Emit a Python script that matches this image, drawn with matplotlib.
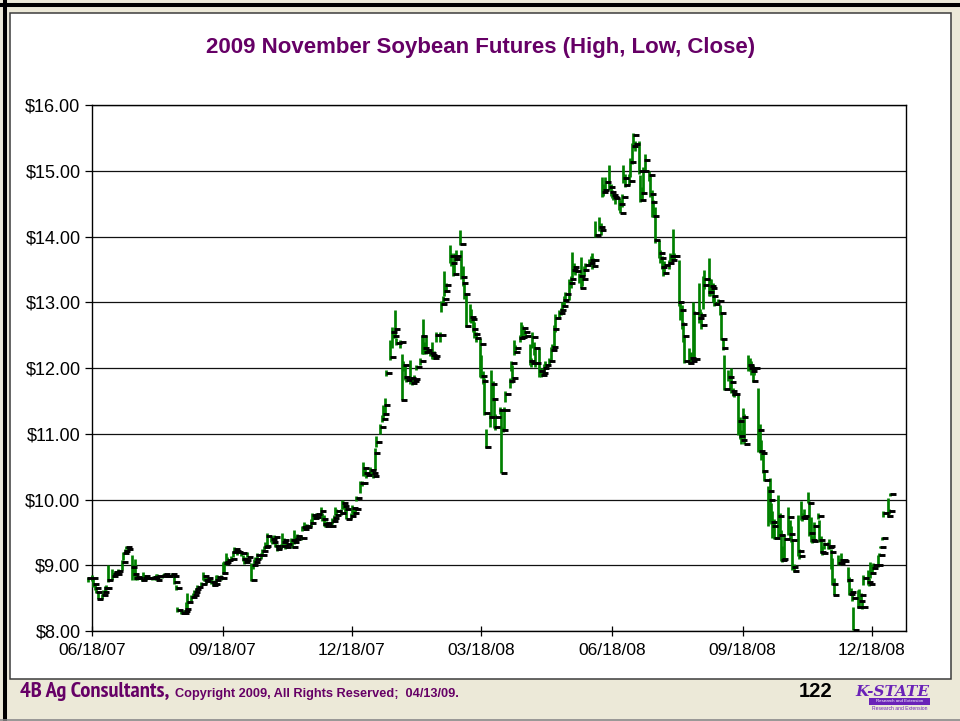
import os
import pandas as pd
import matplotlib
matplotlib.use("Agg")
import matplotlib.pyplot as plt
import matplotlib.dates as mdates
from matplotlib.patches import Rectangle
from matplotlib.lines import Line2D
from matplotlib.transforms import ScaledTranslation
from matplotlib import font_manager
from matplotlib.font_manager import FontProperties

# ---------------------------------------------------------------- data
# Daily trading sessions, 2009 November soybean contract
start_date = "2007-06-15"
end_date = "2008-12-31"

# settlement (close), one row per trading week
close = [
    8.80,
    8.80, 8.72, 8.65, 8.60, 8.49,
    8.55, 8.60, 8.65, 8.66, 8.77,
    8.83, 8.86, 8.90, 8.87, 8.92,
    9.05, 9.18, 9.22, 9.28, 9.25,
    8.98, 8.86, 8.80, 8.82, 8.80,
    8.78, 8.80, 8.83, 8.80, 8.81,
    8.80, 8.82, 8.80, 8.78, 8.84,
    8.83, 8.85, 8.86, 8.84, 8.84,
    8.86, 8.84, 8.75, 8.65, 8.32,
    8.28, 8.28, 8.30, 8.34, 8.44,
    8.52, 8.55, 8.60, 8.64, 8.67,
    8.72, 8.83, 8.78, 8.76, 8.80,
    8.74, 8.70, 8.72, 8.78, 8.82,
    8.80, 8.88, 9.03, 9.05, 9.08,
    9.10, 9.20, 9.25, 9.22, 9.20,
    9.18, 9.10, 9.05, 9.08, 9.13,
    8.77, 9.00, 9.05, 9.10, 9.15,
    9.15, 9.22, 9.28, 9.30, 9.45,
    9.40, 9.36, 9.43, 9.30, 9.25,
    9.30, 9.35, 9.38, 9.28, 9.32,
    9.38, 9.28, 9.35, 9.40, 9.45,
    9.42, 9.58, 9.55, 9.60, 9.58,
    9.65, 9.76, 9.72, 9.74, 9.78,
    9.82, 9.70, 9.62, 9.60, 9.65,
    9.60, 9.68, 9.72, 9.77, 9.82,
    9.80, 9.95, 9.90, 9.85, 9.70,
    9.75, 9.87, 9.80, 9.85, 10.02,
    10.25, 10.25, 10.48, 10.40, 10.37,
    10.45, 10.40, 10.35, 10.70, 10.88,
    11.11, 11.23, 11.30, 11.44, 11.92,
    12.16, 12.55, 12.48, 12.60, 12.38,
    12.40, 11.52, 12.05, 11.87, 11.82,
    11.85, 11.77, 11.80, 11.84, 12.02,
    12.10, 12.48, 12.30, 12.25, 12.28,
    12.23, 12.20, 12.15, 12.18, 12.50,
    12.50, 12.97, 13.05, 13.17, 13.26,
    13.71, 13.59, 13.43, 13.66, 13.71,
    13.88, 13.38, 13.29, 13.13, 12.64,
    12.78, 12.75, 12.60, 12.52, 12.45,
    12.36, 11.88, 11.80, 11.31, 10.80,
    11.26, 11.76, 11.53, 11.10, 11.25,
    11.36, 10.40, 11.06, 11.36, 11.60,
    11.80, 12.07, 11.85, 12.25, 12.30,
    12.46, 12.47, 12.61, 12.55, 12.49,
    12.10, 12.07, 12.47, 12.30, 12.07,
    11.95, 11.90, 11.92, 12.00, 12.05,
    12.10, 12.28, 12.32, 12.60, 12.76,
    12.83, 12.88, 12.95, 13.04, 13.13,
    13.30, 13.35, 13.49, 13.54, 13.47,
    13.40, 13.21, 13.35, 13.49, 13.56,
    13.60, 13.64, 13.55, 13.64, 14.02,
    14.15, 14.10, 14.68, 14.71, 14.83,
    14.75, 14.68, 14.63, 14.60, 14.58,
    14.50, 14.35, 14.60, 14.89, 14.79,
    14.85, 15.14, 15.38, 15.55, 15.40,
    14.99, 14.55, 14.66, 15.00, 15.16,
    14.93, 14.64, 14.52, 14.31, 13.94,
    13.75, 13.67, 13.54, 13.44, 13.57,
    13.59, 13.70, 13.65, 13.70, 13.70,
    13.01, 12.88, 12.67, 12.48, 12.10,
    12.08, 12.15, 12.10, 12.83, 12.14,
    12.76, 12.81, 12.65, 13.26, 13.36,
    13.16, 13.24, 13.22, 13.10, 12.98,
    13.02, 12.83, 12.44, 12.30, 11.68,
    11.87, 11.79, 11.65, 11.61, 11.60,
    11.20, 10.96, 10.90, 11.25, 10.85,
    12.05, 12.00, 11.96, 11.80, 12.00,
    11.05, 10.74, 10.71, 10.44, 10.30,
    10.13, 10.00, 9.66, 9.60, 9.41,
    9.75, 9.46, 9.08, 9.10, 9.40,
    9.73, 9.48, 9.38, 8.98, 8.91,
    9.21, 9.14, 9.73, 9.72, 9.75,
    9.95, 9.49, 9.39, 9.37, 9.60,
    9.75, 9.38, 9.20, 9.19, 9.32,
    9.27, 9.30, 9.20, 8.71, 8.55,
    9.04, 9.03, 9.08, 9.08, 9.06,
    8.77, 8.57, 8.60, 8.50, 8.02,
    8.36, 8.46, 8.54, 8.36, 8.80,
    8.75, 8.71, 8.88, 8.96, 9.01,
    9.00, 9.16, 9.28, 9.41, 9.80,
    9.75, 9.83, 10.08,
]

high = [
    8.82,
    8.85, 8.80, 8.72, 8.66, 8.60,
    8.56, 8.63, 8.68, 8.70, 9.00,
    8.95, 8.88, 8.92, 8.90, 8.95,
    9.08, 9.20, 9.24, 9.30, 9.28,
    9.15, 8.98, 9.10, 8.88, 8.84,
    8.82, 8.90, 8.85, 8.84, 8.83,
    8.82, 8.84, 8.83, 8.86, 8.86,
    8.85, 8.87, 8.88, 8.86, 8.86,
    8.88, 8.86, 8.85, 8.70, 8.37,
    8.30, 8.32, 8.32, 8.44, 8.58,
    8.55, 8.58, 8.62, 8.66, 8.70,
    8.75, 8.90, 8.85, 8.80, 8.83,
    8.80, 8.78, 8.76, 8.85, 8.85,
    8.85, 9.05, 9.06, 9.18, 9.12,
    9.14, 9.22, 9.28, 9.26, 9.24,
    9.22, 9.16, 9.10, 9.12, 9.20,
    9.03, 9.02, 9.10, 9.12, 9.18,
    9.18, 9.25, 9.30, 9.35, 9.49,
    9.45, 9.44, 9.46, 9.42, 9.32,
    9.33, 9.49, 9.42, 9.36, 9.35,
    9.42, 9.40, 9.54, 9.44, 9.48,
    9.46, 9.60, 9.66, 9.62, 9.62,
    9.70, 9.80, 9.76, 9.78, 9.80,
    9.89, 9.80, 9.76, 9.64, 9.68,
    9.64, 9.72, 9.76, 9.89, 9.85,
    9.86, 10.00, 9.98, 9.92, 9.86,
    9.80, 9.92, 9.86, 9.89, 10.05,
    10.28, 10.28, 10.57, 10.46, 10.42,
    10.50, 10.47, 10.42, 10.79, 10.97,
    11.15, 11.28, 11.44, 11.54, 11.97,
    12.43, 12.62, 12.52, 12.88, 12.45,
    12.42, 12.22, 12.10, 12.05, 11.88,
    12.12, 11.85, 11.84, 11.90, 12.05,
    12.15, 12.50, 12.75, 12.40, 12.50,
    12.28, 12.40, 12.20, 12.26, 12.55,
    12.55, 13.02, 13.10, 13.47, 13.30,
    13.87, 13.75, 13.62, 13.75, 13.80,
    14.10, 13.79, 13.55, 13.30, 13.14,
    12.98, 12.90, 12.76, 12.70, 12.55,
    12.45, 12.20, 11.95, 11.85, 11.07,
    11.30, 11.97, 11.80, 11.55, 11.30,
    11.40, 11.36, 11.10, 11.40, 11.65,
    11.85, 12.10, 12.05, 12.43, 12.35,
    12.50, 12.70, 12.65, 12.62, 12.55,
    12.37, 12.15, 12.55, 12.40, 12.30,
    12.30, 12.00, 11.98, 12.06, 12.10,
    12.15, 12.32, 12.36, 12.65, 12.82,
    12.88, 12.92, 13.00, 13.10, 13.16,
    13.35, 13.40, 13.77, 13.60, 13.55,
    13.45, 13.69, 13.42, 13.55, 13.60,
    13.66, 13.70, 13.75, 13.68, 14.23,
    14.30, 14.20, 14.91, 14.80, 14.91,
    15.08, 14.80, 14.70, 14.66, 14.64,
    14.58, 14.55, 14.65, 15.09, 14.95,
    14.95, 15.20, 15.42, 15.58, 15.45,
    15.46, 14.94, 14.75, 15.05, 15.26,
    14.99, 14.95, 14.70, 14.55, 14.45,
    13.95, 13.80, 13.70, 13.60, 13.62,
    13.65, 13.75, 13.72, 14.11, 13.75,
    13.64, 13.00, 12.96, 12.70, 12.50,
    12.30, 12.20, 12.25, 13.01, 12.86,
    13.29, 12.90, 12.85, 13.40, 13.49,
    13.67, 13.36, 13.35, 13.29, 13.10,
    13.05, 12.96, 12.83, 12.45, 12.20,
    11.97, 11.90, 12.00, 11.70, 11.66,
    11.61, 11.25, 11.05, 11.39, 11.30,
    12.20, 12.15, 12.10, 12.05, 12.02,
    11.69, 11.15, 10.90, 10.72, 10.45,
    10.20, 10.32, 9.95, 9.82, 9.70,
    10.07, 9.80, 9.54, 9.30, 9.48,
    9.89, 9.69, 9.60, 9.40, 9.02,
    9.77, 9.25, 9.97, 9.80, 9.85,
    10.12, 9.97, 9.74, 9.45, 9.66,
    9.80, 9.69, 9.45, 9.30, 9.35,
    9.36, 9.40, 9.25, 9.11, 8.80,
    9.16, 9.10, 9.18, 9.10, 9.10,
    8.98, 8.82, 8.66, 8.60, 8.37,
    8.62, 8.64, 8.58, 8.45, 8.85,
    8.93, 8.80, 9.05, 9.00, 9.04,
    9.16, 9.18, 9.30, 9.43, 9.82,
    10.02, 9.86, 10.10,
]

low = [
    8.74,
    8.76, 8.67, 8.63, 8.58, 8.49,
    8.49, 8.55, 8.60, 8.62, 8.75,
    8.78, 8.82, 8.86, 8.84, 8.88,
    8.93, 9.08, 9.18, 9.24, 9.22,
    8.78, 8.84, 8.78, 8.79, 8.78,
    8.76, 8.78, 8.79, 8.78, 8.79,
    8.78, 8.80, 8.78, 8.77, 8.80,
    8.81, 8.83, 8.84, 8.82, 8.82,
    8.84, 8.82, 8.72, 8.62, 8.29,
    8.26, 8.26, 8.27, 8.30, 8.34,
    8.46, 8.50, 8.55, 8.60, 8.62,
    8.68, 8.77, 8.76, 8.72, 8.75,
    8.72, 8.68, 8.68, 8.72, 8.78,
    8.78, 8.86, 8.88, 9.00, 9.03,
    9.06, 9.12, 9.20, 9.18, 9.16,
    9.14, 9.06, 9.02, 9.04, 9.12,
    8.76, 8.95, 9.00, 9.05, 9.10,
    9.10, 9.14, 9.22, 9.26, 9.28,
    9.36, 9.32, 9.38, 9.28, 9.22,
    9.24, 9.30, 9.32, 9.25, 9.28,
    9.32, 9.26, 9.33, 9.35, 9.40,
    9.38, 9.52, 9.54, 9.55, 9.54,
    9.58, 9.64, 9.70, 9.70, 9.74,
    9.76, 9.68, 9.59, 9.58, 9.60,
    9.58, 9.62, 9.68, 9.76, 9.78,
    9.76, 9.86, 9.86, 9.80, 9.70,
    9.70, 9.80, 9.76, 9.80, 9.98,
    10.10, 10.20, 10.35, 10.36, 10.33,
    10.38, 10.36, 10.33, 10.45, 10.80,
    11.00, 11.18, 11.23, 11.30, 11.88,
    12.12, 12.30, 12.45, 12.45, 12.35,
    12.30, 11.51, 11.95, 11.82, 11.78,
    11.76, 11.74, 11.76, 11.80, 11.97,
    12.05, 12.22, 12.22, 12.22, 12.22,
    12.18, 12.14, 12.13, 12.15, 12.40,
    12.40, 12.85, 12.97, 13.10, 13.16,
    13.59, 13.55, 13.40, 13.45, 13.62,
    13.87, 13.36, 13.25, 13.05, 12.63,
    12.70, 12.68, 12.55, 12.45, 12.40,
    11.87, 11.85, 11.75, 11.28, 10.79,
    11.11, 11.25, 11.50, 11.08, 11.05,
    11.30, 10.40, 11.02, 11.06, 11.48,
    11.70, 11.95, 11.77, 12.20, 12.25,
    12.40, 12.45, 12.47, 12.50, 12.45,
    12.05, 12.02, 12.30, 12.20, 12.02,
    11.87, 11.87, 11.88, 11.90, 12.00,
    12.05, 12.10, 12.26, 12.30, 12.55,
    12.76, 12.80, 12.86, 12.95, 13.04,
    13.04, 13.22, 13.34, 13.45, 13.42,
    13.30, 13.21, 13.25, 13.40, 13.48,
    13.55, 13.58, 13.50, 13.58, 14.00,
    14.08, 14.02, 14.60, 14.62, 14.70,
    14.71, 14.62, 14.58, 14.55, 14.50,
    14.40, 14.35, 14.45, 14.81, 14.75,
    14.78, 14.90, 15.10, 15.35, 15.30,
    14.95, 14.53, 14.55, 14.66, 14.98,
    14.85, 14.60, 14.30, 14.30, 13.90,
    13.67, 13.60, 13.50, 13.40, 13.45,
    13.50, 13.60, 13.58, 13.65, 13.64,
    12.95, 12.73, 12.60, 12.40, 12.07,
    12.06, 12.07, 12.08, 12.15, 12.12,
    12.68, 12.70, 12.60, 12.90, 13.20,
    13.10, 13.10, 13.15, 13.00, 12.95,
    12.96, 12.80, 12.43, 12.28, 11.67,
    11.80, 11.70, 11.62, 11.58, 11.56,
    10.98, 10.92, 10.85, 10.98, 10.84,
    11.95, 11.96, 11.90, 11.78, 11.90,
    10.73, 10.70, 10.60, 10.40, 10.28,
    9.59, 9.66, 9.62, 9.41, 9.40,
    9.43, 9.45, 9.06, 9.05, 9.10,
    9.46, 9.40, 9.35, 8.93, 8.90,
    9.14, 9.10, 9.69, 9.68, 9.70,
    9.94, 9.45, 9.36, 9.34, 9.38,
    9.70, 9.35, 9.18, 9.16, 9.25,
    9.24, 9.25, 8.95, 8.70, 8.54,
    9.00, 9.00, 9.04, 9.05, 9.02,
    8.75, 8.55, 8.55, 8.45, 8.02,
    8.35, 8.36, 8.45, 8.34, 8.70,
    8.70, 8.68, 8.80, 8.90, 8.96,
    8.98, 9.14, 9.26, 9.39, 9.74,
    9.74, 9.78, 10.05,
]

tick_dates = ["2007-06-18", "2007-09-18", "2007-12-18", "2008-03-18",
              "2008-06-18", "2008-09-18", "2008-12-18"]
price_ticks = [8, 9, 10, 11, 12, 13, 14, 15, 16]

title = "2009 November Soybean Futures (High, Low, Close)"
firm = "4B Ag Consultants,"
notice = "Copyright 2009, All Rights Reserved;  04/13/09."
page_no = "122"

# ---------------------------------------------------------------- setup
sessions = pd.bdate_range(start_date, end_date)
if not (len(sessions) == len(close) == len(high) == len(low)):
    raise ValueError("session count does not match price lists")
xdates = mdates.date2num(sessions.to_pydatetime())

W, H = 960, 721
fig = plt.figure(figsize=(W / 100, H / 100), dpi=100, facecolor="#ECE9D8")


def fx(px):
    return px / W


def fy(py):
    return 1 - py / H


names = {f.name for f in font_manager.fontManager.ttflist}
SANS = "Liberation Sans" if "Liberation Sans" in names else "DejaVu Sans"
PURPLE = "#660066"


def find_narrow_bold():
    """Look for an installed narrow/condensed bold sans face."""
    best = None
    for f in font_manager.fontManager.ttflist:
        base = os.path.basename(f.fname).lower()
        tag = f.name.lower() + " " + base
        if "bold" not in base or "italic" in base or "oblique" in base:
            continue
        if "serif" in tag and "sans" not in tag:
            continue
        if "narrow" in tag:
            return f.fname
        if "condensed" in tag and "semi" not in tag and best is None:
            best = f.fname
    return best


narrow_file = find_narrow_bold()

# outer frame of the slide
fig.add_artist(Line2D([0, 1], [fy(5), fy(5)], transform=fig.transFigure,
                      color="black", lw=2.9, solid_capstyle="butt"))
fig.add_artist(Line2D([fx(5), fx(5)], [0, 1], transform=fig.transFigure,
                      color="black", lw=2.9, solid_capstyle="butt"))
fig.add_artist(Line2D([0, 1], [fy(719.8), fy(719.8)], transform=fig.transFigure,
                      color="#8a8a8a", lw=1.2))

# white chart panel
fig.add_artist(Rectangle((fx(9.5), fy(679)), fx(951) - fx(9.5), fy(13) - fy(679),
                         transform=fig.transFigure, facecolor="white",
                         edgecolor="#3c3c3c", lw=1.1, zorder=0))

ax = fig.add_axes([fx(92), fy(631), fx(906) - fx(92), fy(105) - fy(631)])
ax.set_facecolor("white")

# high-low bars
ax.vlines(xdates, low, high, color="#008000", lw=1.95, zorder=3, clip_on=False)
# closing ticks drawn to the right of each bar
shift = ax.transData + ScaledTranslation(2.7 / 100, 0, fig.dpi_scale_trans)
ax.plot(xdates, close, ls="none", marker="_", ms=4.3, mew=2.1, color="black",
        transform=shift, zorder=4, clip_on=False)

# axes, scales, grid
x0 = mdates.date2num(pd.Timestamp("2007-06-18"))
ax.set_xlim(x0, x0 + 573)
ax.set_ylim(8, 16)
ax.set_yticks(price_ticks)
ax.set_yticklabels([f"${v:.2f}" for v in price_ticks])
tick_pos = mdates.date2num(pd.to_datetime(tick_dates).to_pydatetime())
ax.set_xticks(tick_pos)
ax.set_xticklabels([pd.Timestamp(d).strftime("%m/%d/%y") for d in tick_dates])

ax.yaxis.grid(True, color="#111111", lw=0.9)
ax.set_axisbelow(True)
for s in ax.spines.values():
    s.set_color("black")
    s.set_linewidth(1.0)

ax.tick_params(axis="y", direction="out", length=5, width=0.9, pad=3.3,
               labelsize=13, colors="black")
ax.tick_params(axis="x", direction="inout", length=7.5, width=0.9, pad=5,
               labelsize=12.5, colors="black")
for lab in ax.get_xticklabels() + ax.get_yticklabels():
    lab.set_family(SANS)

# title
fig.text(fx(481), fy(47), title, ha="center", va="center", fontsize=16,
         fontweight="bold", color=PURPLE, family=SANS)

# footer
if narrow_file:
    fig.text(fx(20), fy(697), firm, ha="left", va="baseline", color=PURPLE,
             fontproperties=FontProperties(fname=narrow_file, size=16.2))
else:
    fig.text(fx(20), fy(697), firm, ha="left", va="baseline", fontsize=12,
             fontweight="bold", color=PURPLE, family=SANS)
fig.text(fx(175), fy(697), notice, ha="left", va="baseline", fontsize=9.2,
         fontweight="bold", color=PURPLE, family=SANS)
fig.text(fx(816), fy(697), page_no, ha="center", va="baseline", fontsize=14.5,
         fontweight="bold", color="black", family=SANS)

# K-State mark
LOGO = "#6a22b8"
fig.text(fx(892), fy(692), "K-STATE", ha="center", va="center", fontsize=11,
         fontweight="bold", style="italic", color=LOGO, family="DejaVu Serif")
fig.add_artist(Rectangle((fx(869), fy(705)), fx(930) - fx(869), fy(698) - fy(705),
                         transform=fig.transFigure, facecolor=LOGO,
                         edgecolor="none"))
fig.text(fx(899.5), fy(701.5), "Research and Extension", ha="center",
         va="center", fontsize=3.2, color="white", family=SANS)
fig.text(fx(899.5), fy(709), "Research and Extension", ha="center",
         va="center", fontsize=3.6, color=LOGO, family=SANS)

fig.savefig("out.png", dpi=100, facecolor=fig.get_facecolor())
